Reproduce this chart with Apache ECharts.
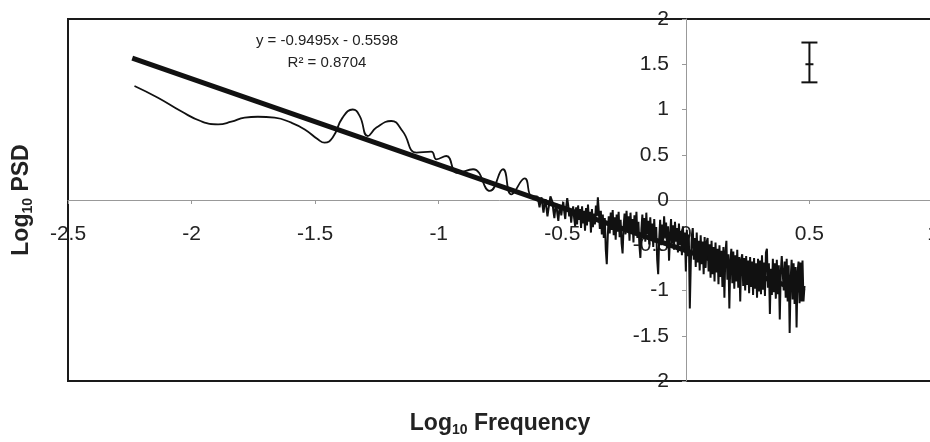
<!DOCTYPE html>
<html>
<head>
<meta charset="utf-8">
<script src="https://cdn.jsdelivr.net/npm/echarts@6/dist/echarts.min.js"></script>
<style>
html, body { margin: 0; background: #fff; }
#chart { width: 930px; height: 442px; }
</style>
</head>
<body>
<div id="chart"></div>
<script>
// low frequency part, smooth curve (log10 f, log10 PSD)
var rippleX = [-2.231, -2.136, -2.042, -1.961, -1.893, -1.839, -1.785, -1.732, -1.664, -1.596,
               -1.542, -1.489, -1.462, -1.429, -1.389, -1.348, -1.320, -1.287, -1.252, -1.192,
               -1.146, -1.090, -1.030, -1.009, -0.969, -0.925, -0.861, -0.793, -0.740, -0.706,
               -0.652, -0.625, -0.600];
var rippleY = [1.26, 1.13, 0.98, 0.87, 0.836, 0.865, 0.91, 0.92, 0.91, 0.854,
               0.78, 0.67, 0.633, 0.69, 0.91, 1.0, 0.93, 0.707, 0.80, 0.873,
               0.76, 0.523, 0.534, 0.45, 0.486, 0.30, 0.34, 0.10, 0.34, 0.063,
               0.24, 0.044, 0.04];

// high frequency part, noisy, sampled every 0.004 from -0.6 to 0.48
var noiseX0 = -0.6;
var noiseStep = 0.004;
var noiseY = [
  // -0.600 .. -0.452
  0.04, -0.02, -0.08, -0.01, 0.03, -0.06, -0.14, -0.05, 0.01, -0.09,
  -0.18, -0.10, -0.03, 0.04, 0.06, -0.02, -0.12, -0.20, -0.09, -0.04,
  -0.15, -0.23, -0.11, -0.06, -0.17, -0.08, -0.02, -0.13, -0.21, -0.07,
  0.02, -0.06, -0.18, -0.10, -0.25, -0.14, -0.07, -0.20,
  // -0.448 .. -0.004
  -0.29, -0.08, -0.27, -0.06, -0.22, -0.10, -0.31, -0.07, -0.26, -0.12,
  -0.34, -0.09, -0.28, -0.05, -0.24, -0.13, -0.36, -0.10, -0.30, -0.15,
  -0.27, -0.06, -0.18, 0.03, -0.14, -0.32, -0.12, -0.38, -0.16, -0.42,
  -0.20, -0.55, -0.71, -0.40, -0.18, -0.37, -0.14, -0.33, -0.11, -0.39,
  -0.19, -0.44, -0.16, -0.35, -0.13, -0.41, -0.22, -0.48, -0.59, -0.30,
  -0.15, -0.38, -0.12, -0.34, -0.18, -0.45, -0.14, -0.36, -0.21, -0.47,
  -0.17, -0.39, -0.13, -0.42, -0.24, -0.50, -0.64, -0.33, -0.16, -0.40,
  -0.20, -0.46, -0.14, -0.38, -0.23, -0.49, -0.19, -0.43, -0.26, -0.52,
  -0.21, -0.47, -0.30, -0.66, -0.82, -0.44, -0.22, -0.50, -0.27, -0.45,
  -0.18, -0.41, -0.25, -0.53, -0.29, -0.67, -0.40, -0.21, -0.48, -0.28,
  -0.55, -0.24, -0.46, -0.31, -0.58, -0.26, -0.50, -0.34, -0.61, -0.29,
  -0.53, -0.36,
  // 0.000 .. 0.480
  -0.79, -0.33, -0.62, -0.38, -1.20, -0.70, -0.40, -0.31, -0.66, -0.42,
  -0.74, -0.36, -0.69, -0.45, -0.78, -0.39, -0.71, -0.46, -0.82, -0.41,
  -0.75, -0.47, -0.42, -0.79, -0.49, -0.86, -0.45, -0.82, -0.52, -0.90,
  -0.47, -0.80, -0.54, -0.93, -0.50, -0.85, -0.56, -0.96, -0.52, -1.08,
  -0.58, -0.45, -0.88, -0.60, -1.20, -0.68, -0.54, -0.92, -0.57, -0.98,
  -0.61, -0.90, -0.55, -0.97, -0.63, -1.12, -0.66, -0.60, -0.95, -0.64,
  -1.00, -0.62, -0.94, -0.67, -1.03, -0.63, -0.96, -0.68, -1.05, -0.64,
  -0.98, -0.70, -1.08, -0.65, -1.01, -0.67, -1.04, -0.61, -0.99, -0.69,
  -1.06, -0.58, -0.54, -0.97, -0.70, -1.26, -0.76, -1.05, -0.65, -1.02,
  -0.70, -1.09, -0.66, -1.04, -0.72, -1.32, -0.80, -0.62, -0.60, -1.00,
  -0.68, -1.08, -0.65, -1.12, -0.72, -1.47, -0.88, -0.66, -1.10, -0.70,
  -1.15, -0.74, -1.41, -0.80, -0.68, -1.14, -0.69, -1.12, -0.67, -1.12,
  -0.95
];

// linear trend y = -0.9495x - 0.5598, end points
var trendX = [-2.24, 0.48];
var trendY = [1.567, -1.016];

// error bar: x, low, high, mean
var errBar = [0.5, 1.30, 1.74, 1.5];

var fontName = 'Liberation Sans, Arial, sans-serif';

var ripple_data = rippleX.map((x, i) => [x, rippleY[i]]);
var noise_data = noiseY.map((y, i) => [+(noiseX0 + i * noiseStep).toFixed(3), y]);
var trend_data = trendX.map((x, i) => [x, trendY[i]]);

var titleRich = {
    a: { fontSize: 23, fontWeight: 'bold', fontFamily: fontName, fill: '#222', lineHeight: 27 },
    b: { fontSize: 14, fontWeight: 'bold', fontFamily: fontName, fill: '#222', lineHeight: 27, verticalAlign: 'bottom' }
};

var option = {
    animation: false,
    backgroundColor: '#fff',
    grid: {
        left: 68, top: 19, width: 865, height: 362,
        outerBoundsMode: 'none', containLabel: false,
        show: true, borderColor: '#1a1a1a', borderWidth: 2
    },
    // axes sit at zero, moved there with offset
    xAxis: {
        type: 'value', min: -2.5, max: 1, interval: 0.5,
        position: 'bottom', offset: -181,
        axisLine: { onZero: false, lineStyle: { color: '#999', width: 1 } },
        axisTick: { show: true, length: 4, lineStyle: { color: '#999' } },
        axisLabel: { margin: 24, color: '#222', fontSize: 21, fontFamily: fontName },
        splitLine: { show: false }
    },
    yAxis: {
        type: 'value', min: -2, max: 2, interval: 0.5,
        position: 'left', offset: -618,
        axisLine: { onZero: false, lineStyle: { color: '#999', width: 1 } },
        axisTick: { show: true, length: 4, lineStyle: { color: '#999' } },
        axisLabel: { margin: 17, color: '#222', fontSize: 21, fontFamily: fontName },
        splitLine: { show: false }
    },
    graphic: [
        {
            type: 'text', x: 327, y: 41,
            style: {
                text: 'y = -0.9495x - 0.5598', font: '15px ' + fontName, fill: '#222',
                align: 'center', verticalAlign: 'middle', textAlign: 'center', textVerticalAlign: 'middle'
            }
        },
        {
            type: 'text', x: 327, y: 63,
            style: {
                text: 'R² = 0.8704', font: '15px ' + fontName, fill: '#222',
                align: 'center', verticalAlign: 'middle', textAlign: 'center', textVerticalAlign: 'middle'
            }
        },
        {
            type: 'text', x: 500, y: 424,
            style: {
                text: '{a|Log}{b|10}{a| Frequency}', fill: '#222',
                align: 'center', verticalAlign: 'middle', textAlign: 'center', textVerticalAlign: 'middle',
                rich: titleRich
            }
        },
        {
            type: 'text', x: 22, y: 200, rotation: Math.PI / 2,
            style: {
                text: '{a|Log}{b|10}{a| PSD}', fill: '#222',
                align: 'center', verticalAlign: 'middle', textAlign: 'center', textVerticalAlign: 'middle',
                rich: titleRich
            }
        }
    ],
    series: [
        {
            type: 'line', data: ripple_data, smooth: 0.5, showSymbol: false, z: 2,
            lineStyle: { color: '#111', width: 1.8 }
        },
        {
            type: 'line', data: trend_data, showSymbol: false, z: 3,
            lineStyle: { color: '#111', width: 5 }
        },
        {
            type: 'line', data: noise_data, showSymbol: false, z: 4,
            lineStyle: { color: '#111', width: 2 }
        },
        {
            type: 'custom',
            data: [errBar],
            encode: { x: 0, y: [1, 2] },
            renderItem: function (params, api) {
                var lo = api.coord([api.value(0), api.value(1)]);
                var hi = api.coord([api.value(0), api.value(2)]);
                var mid = api.coord([api.value(0), api.value(3)]);
                var st = { stroke: '#111', lineWidth: 2 };
                return {
                    type: 'group',
                    children: [
                        { type: 'line', shape: { x1: lo[0], y1: lo[1], x2: hi[0], y2: hi[1] }, style: st },
                        { type: 'line', shape: { x1: lo[0] - 8, y1: lo[1], x2: lo[0] + 8, y2: lo[1] }, style: st },
                        { type: 'line', shape: { x1: hi[0] - 8, y1: hi[1], x2: hi[0] + 8, y2: hi[1] }, style: st },
                        { type: 'line', shape: { x1: mid[0] - 4, y1: mid[1], x2: mid[0] + 4, y2: mid[1] }, style: st }
                    ]
                };
            }
        }
    ]
};

var chart = echarts.init(document.getElementById('chart'));
chart.setOption(option);
</script>
</body>
</html>
